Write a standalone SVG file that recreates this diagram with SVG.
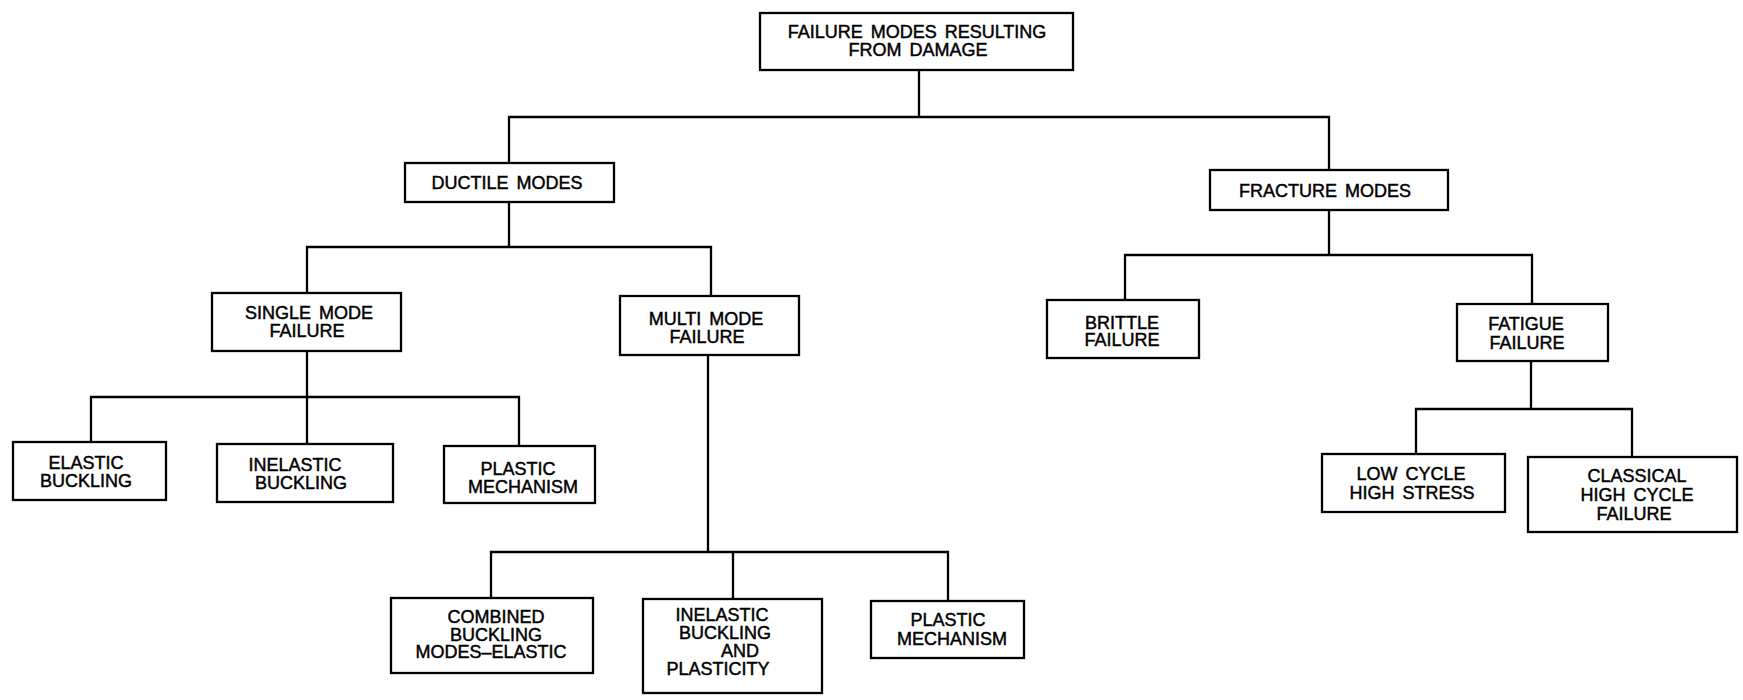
<svg xmlns="http://www.w3.org/2000/svg" width="1743" height="700" viewBox="0 0 1743 700">
<style>
  .box { fill: #ffffff; stroke: #000000; stroke-width: 2.3; }
  .lbl { font-family: "Liberation Sans", Arial, sans-serif; font-size: 18px; fill: #000000; stroke: #000000; stroke-width: 0.45; text-anchor: middle; word-spacing: 3px; }
  .wire { fill: none; stroke: #000000; stroke-width: 2.3; stroke-linecap: square; }
</style>
<rect x="0" y="0" width="1743" height="700" fill="#ffffff"/>

<g id="connectors">
  <path class="wire" d="M919,70 V117 M509,117 H1329 M509,117 V163 M1329,117 V170"/>
  <path class="wire" d="M509,202 V247 M307,247 H711 M307,247 V293 M711,247 V296"/>
  <path class="wire" d="M307,351 V397 M91,397 H519 M91,397 V442 M307,397 V444 M519,397 V446"/>
  <path class="wire" d="M708,355 V552 M491,552 H948 M491,552 V598 M733,552 V599 M948,552 V601"/>
  <path class="wire" d="M1329,210 V255 M1125,255 H1532 M1125,255 V300 M1532,255 V304"/>
  <path class="wire" d="M1531,361 V409 M1416,409 H1632 M1416,409 V454 M1632,409 V457"/>
</g>

<g id="root">
  <rect class="box" x="760" y="13" width="313" height="57"/>
  <text class="lbl" x="917" y="38">FAILURE MODES RESULTING</text>
  <text class="lbl" x="918" y="56">FROM DAMAGE</text>
</g>

<g id="ductile">
  <rect class="box" x="405" y="163" width="209" height="39"/>
  <text class="lbl" x="507" y="189">DUCTILE MODES</text>
</g>

<g id="fracture">
  <rect class="box" x="1210" y="170" width="238" height="40"/>
  <text class="lbl" x="1325" y="197">FRACTURE MODES</text>
</g>

<g id="single">
  <rect class="box" x="212" y="293" width="189" height="58"/>
  <text class="lbl" x="309" y="319">SINGLE MODE</text>
  <text class="lbl" x="307" y="337">FAILURE</text>
</g>

<g id="multi">
  <rect class="box" x="620" y="296" width="179" height="59"/>
  <text class="lbl" x="706" y="325">MULTI MODE</text>
  <text class="lbl" x="707" y="343">FAILURE</text>
</g>

<g id="brittle">
  <rect class="box" x="1047" y="300" width="152" height="58"/>
  <text class="lbl" x="1122" y="329">BRITTLE</text>
  <text class="lbl" x="1122" y="346">FAILURE</text>
</g>

<g id="fatigue">
  <rect class="box" x="1457" y="304" width="151" height="57"/>
  <text class="lbl" x="1526" y="330">FATIGUE</text>
  <text class="lbl" x="1527" y="349">FAILURE</text>
</g>

<g id="elastic-buckling">
  <rect class="box" x="13" y="442" width="153" height="58"/>
  <text class="lbl" x="86" y="469">ELASTIC</text>
  <text class="lbl" x="86" y="487">BUCKLING</text>
</g>

<g id="inelastic-buckling">
  <rect class="box" x="217" y="444" width="176" height="58"/>
  <text class="lbl" x="295" y="471">INELASTIC</text>
  <text class="lbl" x="301" y="489">BUCKLING</text>
</g>

<g id="plastic-mechanism-1">
  <rect class="box" x="444" y="446" width="151" height="57"/>
  <text class="lbl" x="518" y="475">PLASTIC</text>
  <text class="lbl" x="523" y="493">MECHANISM</text>
</g>

<g id="low-cycle">
  <rect class="box" x="1322" y="454" width="183" height="58"/>
  <text class="lbl" x="1411" y="480">LOW CYCLE</text>
  <text class="lbl" x="1412" y="499">HIGH STRESS</text>
</g>

<g id="classical">
  <rect class="box" x="1528" y="457" width="209" height="75"/>
  <text class="lbl" x="1637" y="482">CLASSICAL</text>
  <text class="lbl" x="1637" y="501">HIGH CYCLE</text>
  <text class="lbl" x="1634" y="520">FAILURE</text>
</g>

<g id="combined">
  <rect class="box" x="391" y="598" width="202" height="75"/>
  <text class="lbl" x="496" y="623">COMBINED</text>
  <text class="lbl" x="496" y="641">BUCKLING</text>
  <text class="lbl" x="491" y="658">MODES–ELASTIC</text>
</g>

<g id="inelastic-plasticity">
  <rect class="box" x="643" y="599" width="179" height="94"/>
  <text class="lbl" x="722" y="621">INELASTIC</text>
  <text class="lbl" x="725" y="639">BUCKLING</text>
  <text class="lbl" x="740" y="657">AND</text>
  <text class="lbl" x="718" y="675">PLASTICITY</text>
</g>

<g id="plastic-mechanism-2">
  <rect class="box" x="871" y="601" width="153" height="57"/>
  <text class="lbl" x="948" y="626">PLASTIC</text>
  <text class="lbl" x="952" y="645">MECHANISM</text>
</g>
</svg>
